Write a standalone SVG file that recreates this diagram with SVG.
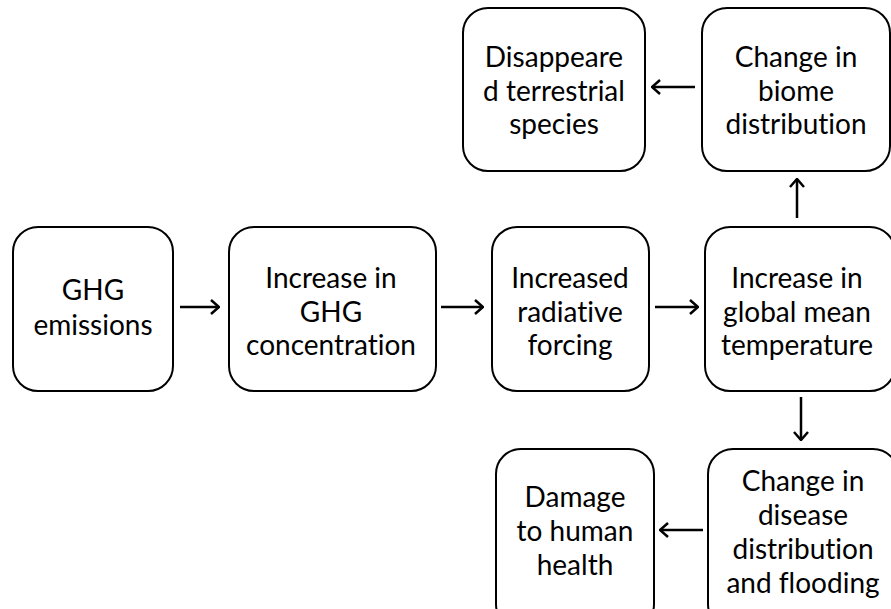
<svg xmlns="http://www.w3.org/2000/svg" width="891" height="609" viewBox="0 0 891 609">
<style>
.box{fill:#fff;stroke:#000;stroke-width:2}
.t{font-family:Lato,"Open Sans","Liberation Sans",sans-serif;font-size:28px;fill:#000;text-anchor:middle;font-variant-ligatures:none;font-feature-settings:"liga" 0,"dlig" 0}
.c{stroke:#000;stroke-width:2.5;fill:none;marker-end:url(#ah)}
</style>
<defs>
<marker id="ah" viewBox="0 0 10 16" refX="9" refY="8" markerWidth="10" markerHeight="16" markerUnits="userSpaceOnUse" orient="auto">
<path d="M1,1 L9,8 L1,15" fill="none" stroke="#000" stroke-width="2.5"/>
</marker>
</defs>
<rect width="891" height="609" fill="#fff"/>
<g id="n1"><rect class="box" x="13" y="227" width="160" height="164" rx="25"/>
<text class="t" x="93" y="300">GHG</text><text class="t" x="93" y="335">emissions</text></g>
<g id="n2"><rect class="box" x="229" y="227" width="207" height="164" rx="25"/>
<text class="t" x="331" y="288">Increase in</text><text class="t" x="331" y="322">GHG</text><text class="t" x="331" y="355">concentration</text></g>
<g id="n3"><rect class="box" x="492" y="227" width="157" height="164" rx="25"/>
<text class="t" x="570" y="288">Increased</text><text class="t" x="570" y="322">radiative</text><text class="t" x="570" y="355">forcing</text></g>
<g id="n4"><rect class="box" x="705" y="227" width="190" height="164" rx="25"/>
<text class="t" x="797" y="288">Increase in</text><text class="t" x="797" y="322">global mean</text><text class="t" x="797" y="355">temperature</text></g>
<g id="n5"><rect class="box" x="702" y="8" width="188" height="163" rx="25"/>
<text class="t" x="796" y="67">Change in</text><text class="t" x="796" y="101">biome</text><text class="t" x="796" y="134">distribution</text></g>
<g id="n6"><rect class="box" x="463" y="8" width="182" height="163" rx="25"/>
<text class="t" x="554" y="67">Disappeare</text><text class="t" x="554" y="101">d terrestrial</text><text class="t" x="554" y="134">species</text></g>
<g id="n7"><rect class="box" x="708" y="449" width="190" height="180" rx="25"/>
<text class="t" x="803" y="491">Change in</text><text class="t" x="803" y="525">disease</text><text class="t" x="803" y="559">distribution</text><text class="t" x="803" y="593">and flooding</text></g>
<g id="n8"><rect class="box" x="496" y="449" width="158" height="180" rx="25"/>
<text class="t" x="575" y="507">Damage</text><text class="t" x="575" y="541">to human</text><text class="t" x="575" y="575">health</text></g>
<g id="connectors">
<line class="c" x1="180" y1="307" x2="219" y2="307"/>
<line class="c" x1="441" y1="307" x2="483" y2="307"/>
<line class="c" x1="655" y1="307" x2="698" y2="307"/>
<line class="c" x1="797" y1="218" x2="797" y2="179"/>
<line class="c" x1="695" y1="87" x2="652" y2="87"/>
<line class="c" x1="801" y1="397" x2="801" y2="440"/>
<line class="c" x1="703" y1="530" x2="660" y2="530"/>
</g>
</svg>
